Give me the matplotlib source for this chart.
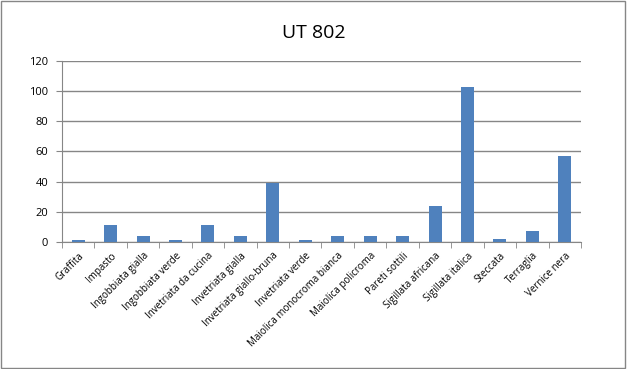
import matplotlib
matplotlib.use("Agg")
import matplotlib.pyplot as plt
from matplotlib.patches import Rectangle
import numpy as np

# data
categorie = ["Graffita", "Impasto", "Ingobbiata gialla", "Ingobbiata verde",
             "Invetriata da cucina", "Invetriata gialla", "Invetriata giallo-bruna",
             "Invetriata verde", "Maiolica monocroma bianca", "Maiolica policroma",
             "Pareti sottili", "Sigillata africana", "Sigillata italica",
             "Steccata", "Terraglia", "Vernice nera"]
valori = [1, 11, 4, 1, 11, 4, 39, 1, 4, 4, 4, 24, 103, 2, 7, 57]
yticks = [0, 20, 40, 60, 80, 100, 120]

plt.rcParams['font.family'] = ['Open Sans', 'DejaVu Sans']

fig = plt.figure(figsize=(6.27, 3.69), dpi=100)
ax = fig.add_axes([0.0989, 0.3442, 0.8277, 0.4905])

x = np.arange(len(categorie))
ax.bar(x, valori, width=0.4, color="#4F81BD", zorder=3)

ax.set_xlim(-0.5, len(categorie) - 0.5)
ax.set_ylim(0, 120)
ax.set_yticks(yticks)
ax.set_yticklabels([str(v) for v in yticks], fontsize=8)
ax.yaxis.grid(True, color="#868686", linewidth=1, zorder=0)

ax.set_xticks(x)
ax.set_xticklabels(categorie, rotation=45, ha="right", rotation_mode="anchor", fontsize=7)
ax.tick_params(axis="x", which="major", length=0, pad=6)
ax.set_xticks(np.arange(-0.5, len(categorie)), minor=True)
ax.tick_params(axis="x", which="minor", length=4, color="#868686", direction="out")
ax.tick_params(axis="y", length=4, color="#868686", direction="out", pad=6)

for s in ["top", "right"]:
    ax.spines[s].set_visible(False)
for s in ["left", "bottom"]:
    ax.spines[s].set_color("#868686")

fig.text(0.5, 0.91, "UT 802", ha="center", va="center", fontsize=14)

# grey frame round the whole chart
fig.patches.append(Rectangle((0.002, 0.003), 0.995, 0.993, transform=fig.transFigure,
                             fill=False, edgecolor="#868686", linewidth=1))

fig.savefig("out.png", dpi=100)
